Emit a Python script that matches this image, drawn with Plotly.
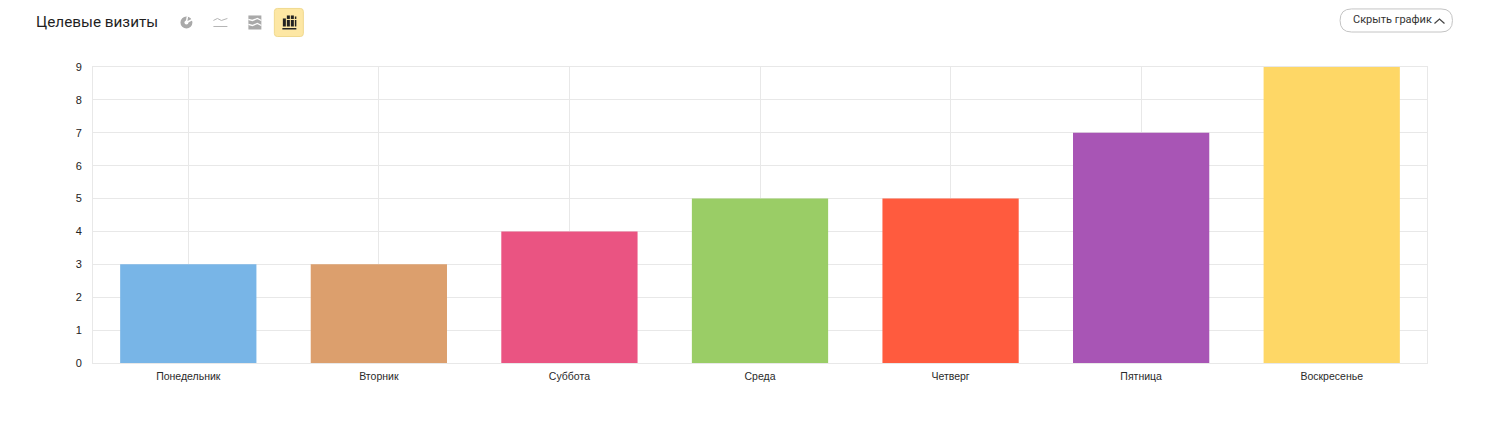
import plotly.graph_objects as go

categories = ["Понедельник", "Вторник", "Суббота", "Среда", "Четверг", "Пятница", "Воскресенье"]
visits = [3, 3, 4, 5, 5, 7, 9]
bar_colors = ["#78b5e7", "#dc9f6d", "#ea5482", "#9acd66", "#ff5b3e", "#a855b5", "#fed766"]
y_ticks = [0, 1, 2, 3, 4, 5, 6, 7, 8, 9]
title_text = "Целевые визиты"
button_text = "Скрыть график"

W, H = 1486, 441
L, R, T, B = 92.5, 1427.5, 67.4, 362.6
FONT = "Liberation Sans, Arial, sans-serif"

fx = lambda x: (x - L) / (R - L)
fy = lambda y: (B - y) / (B - T)

def rect(x0, y0, x1, y1, fill, line="rgba(0,0,0,0)", width=0):
    return dict(type="rect", xref="paper", yref="paper", x0=fx(x0), x1=fx(x1), y0=fy(y0), y1=fy(y1),
                fillcolor=fill, line=dict(color=line, width=width), layer="above")

def seg(pts, color, width):
    d = "M " + " L ".join(f"{fx(x):.5f},{fy(y):.5f}" for x, y in pts)
    return dict(type="path", xref="paper", yref="paper", path=d, line=dict(color=color, width=width), layer="above")

def rrect(x0, y0, x1, y1, r, fill, line, width=1):
    k = lambda x, y: f"{fx(x):.5f},{fy(y):.5f}"
    d = (f"M {k(x0+r,y0)} L {k(x1-r,y0)} Q {k(x1,y0)} {k(x1,y0+r)} L {k(x1,y1-r)} Q {k(x1,y1)} {k(x1-r,y1)} "
         f"L {k(x0+r,y1)} Q {k(x0,y1)} {k(x0,y1-r)} L {k(x0,y0+r)} Q {k(x0,y0)} {k(x0+r,y0)} Z")
    return dict(type="path", xref="paper", yref="paper", path=d, fillcolor=fill,
                line=dict(color=line, width=width), layer="above")

def circle(x0, y0, x1, y1, fill):
    return dict(type="circle", xref="paper", yref="paper", x0=fx(x0), x1=fx(x1), y0=fy(y0), y1=fy(y1),
                fillcolor=fill, line=dict(width=0), layer="above")

GREY = "#a9a9a9"
shapes = [
    # pie icon
    circle(180, 17, 192, 29, GREY),
    circle(184, 21, 188, 25, "#ffffff"),
    seg([(186, 23), (192, 20)], "#ffffff", 1.5),
    seg([(186, 23), (187, 17)], "#ffffff", 1.5),
    # line icon
    seg([(213, 21), (217, 19), (221, 21), (227, 19)], "#b5b5b5", 1),
    seg([(213, 27), (227, 27)], "#b5b5b5", 1),
    # stacked area icon
    rect(248, 16, 261, 30, GREY),
    seg([(248, 20), (252, 21), (257, 19), (261, 21)], "#ffffff", 1.3),
    seg([(248, 25), (252, 26), (257, 24), (261, 26)], "#ffffff", 1.3),
    # bar icon, active
    rrect(274, 9, 303, 37, 3, "#fde7a4", "#f0d98e"),
    rect(282.5, 19, 285.5, 27, "#222222"),
    rect(286.5, 16, 289.5, 27, "#222222"),
    rect(290.5, 16, 293.5, 27, "#222222"),
    rect(294.5, 17, 296, 27, "#222222"),
    seg([(286, 20), (297, 20)], "#fde7a4", 1),
    rect(282, 28.5, 296, 30, "#222222"),
    # hide button
    rrect(1340.5, 9.5, 1453, 32.5, 11.5, "#ffffff", "#c4c4c4"),
    seg([(1435, 24), (1440, 19.5), (1445, 24)], "#444444", 1.2),
]

annotations = [
    dict(text=title_text, xref="paper", yref="paper", x=fx(33), y=fy(23), xanchor="left", yanchor="middle",
         showarrow=False, font=dict(family="Roboto, sans-serif", size=15.3, color="#1f1f1f")),
    dict(text=button_text, xref="paper", yref="paper", x=fx(1351), y=fy(20.5), xanchor="left", yanchor="middle",
         showarrow=False, font=dict(family="Roboto, sans-serif", size=11, color="#333333")),
]

fig = go.Figure(go.Bar(x=categories, y=visits, marker=dict(color=bar_colors, line=dict(width=0)), width=0.715))
fig.update_layout(
    width=W, height=H, autosize=False,
    margin=dict(l=L, r=W - R, t=T, b=H - B, pad=0),
    paper_bgcolor="white", plot_bgcolor="white", showlegend=False,
    font=dict(family=FONT, size=10, color="#333333"),
    shapes=shapes, annotations=annotations,
)
fig.update_xaxes(type="category", categoryorder="array", categoryarray=categories, range=[-0.5, 6.5],
                 showgrid=True, gridcolor="#e8e8e8", gridwidth=1, showline=True, linecolor="#e8e8e8",
                 mirror=True, ticks="outside", ticklen=3, tickcolor="rgba(0,0,0,0)",
                 tickfont=dict(size=10.5, color="#2a2a2a"), zeroline=False)
fig.update_yaxes(range=[0, 9], tickvals=y_ticks, showgrid=True, gridcolor="#e8e8e8", gridwidth=1,
                 showline=True, linecolor="#e8e8e8", mirror=True, ticks="outside", ticklen=8,
                 tickcolor="rgba(0,0,0,0)", tickfont=dict(size=11, color="#222222"), zeroline=False)
fig.write_html("out.html", config=dict(displayModeBar=False),
               post_script="document.body.style.margin='0';document.body.style.overflow='hidden';")
